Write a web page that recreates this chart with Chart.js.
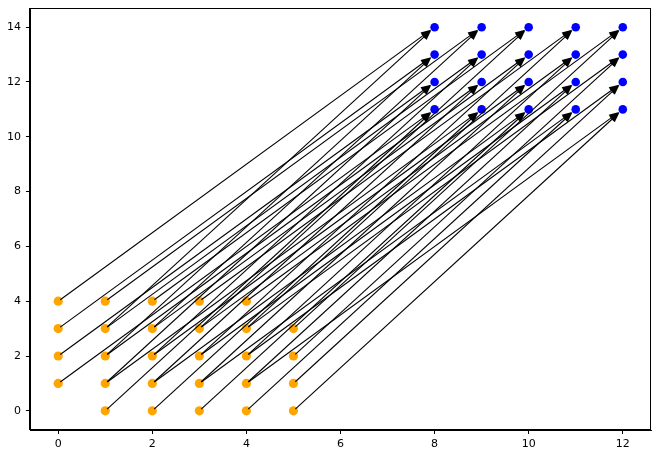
<!DOCTYPE html>
<html>
<head>
<meta charset="utf-8">
<script src="https://cdn.jsdelivr.net/npm/chart.js@4/dist/chart.umd.min.js"></script>
<style>
  html, body { margin: 0; padding: 0; background: #fff; }
  canvas { display: block; }
</style>
</head>
<body>
<canvas id="c" width="658" height="456"></canvas>
<script>
// Orange (source) points
const orangeX = [0,0,0,0, 1,1,1,1,1, 2,2,2,2,2, 3,3,3,3,3, 4,4,4,4,4, 5,5,5,5];
const orangeY = [1,2,3,4, 0,1,2,3,4, 0,1,2,3,4, 0,1,2,3,4, 0,1,2,3,4, 0,1,2,3];
// Blue (target) points
const blueX = [8,8,8,8, 9,9,9,9, 10,10,10,10, 11,11,11,11, 12,12,12,12];
const blueY = [11,12,13,14, 11,12,13,14, 11,12,13,14, 11,12,13,14, 11,12,13,14];
// Arrows: start and end
const arrowFromX = [1,1,1,1, 2,2,2,2, 3,3,3,3, 4,4,4,4, 5,5,5,5,
                    0,0,0,0, 1,1,1,1, 2,2,2,2, 3,3,3,3, 4,4,4,4];
const arrowFromY = [0,1,2,3, 0,1,2,3, 0,1,2,3, 0,1,2,3, 0,1,2,3,
                    1,2,3,4, 1,2,3,4, 1,2,3,4, 1,2,3,4, 1,2,3,4];
const arrowToX   = [8,8,8,8, 9,9,9,9, 10,10,10,10, 11,11,11,11, 12,12,12,12,
                    8,8,8,8, 9,9,9,9, 10,10,10,10, 11,11,11,11, 12,12,12,12];
const arrowToY   = [11,12,13,14, 11,12,13,14, 11,12,13,14, 11,12,13,14, 11,12,13,14,
                    11,12,13,14, 11,12,13,14, 11,12,13,14, 11,12,13,14, 11,12,13,14];
// Tick labels
const xTicks = [0, 2, 4, 6, 8, 10, 12];
const yTicks = [0, 2, 4, 6, 8, 10, 12, 14];

const toPts = (xs, ys) => xs.map((x, i) => ({x: x, y: ys[i]}));

const arrowPlugin = {
  id: 'arrows',
  afterDatasetsDraw(chart) {
    const ctx = chart.ctx;
    const sx = chart.scales.x, sy = chart.scales.y;
    ctx.save();
    ctx.strokeStyle = '#000';
    ctx.fillStyle = '#000';
    ctx.lineWidth = 1.1;
    for (let i = 0; i < arrowFromX.length; i++) {
      const x1 = sx.getPixelForValue(arrowFromX[i]);
      const y1 = sy.getPixelForValue(arrowFromY[i]);
      const x2 = sx.getPixelForValue(arrowToX[i]);
      const y2 = sy.getPixelForValue(arrowToY[i]);
      const dx = x2 - x1, dy = y2 - y1;
      const len = Math.hypot(dx, dy);
      const ux = dx / len, uy = dy / len;
      const px = -uy, py = ux;
      const startX = x1 + ux * 2.5, startY = y1 + uy * 2.5;
      const tipX = x2 - ux * 4.5, tipY = y2 - uy * 4.5;
      const headLen = 10, hw = 4;
      const bx = tipX - ux * headLen, by = tipY - uy * headLen;
      ctx.beginPath();
      ctx.moveTo(startX, startY);
      ctx.lineTo(bx + ux * 1, by + uy * 1);
      ctx.stroke();
      ctx.beginPath();
      ctx.moveTo(tipX, tipY);
      ctx.lineTo(bx + px * hw, by + py * hw);
      ctx.lineTo(bx - px * hw, by - py * hw);
      ctx.closePath();
      ctx.fill();
    }
    ctx.restore();
  },
  afterDraw(chart) {
    const a = chart.chartArea;
    const ctx = chart.ctx;
    ctx.save();
    ctx.strokeStyle = '#000';
    ctx.lineWidth = 1;
    const l = Math.round(a.left) - 0.5, r = Math.round(a.right) - 0.5;
    const t = Math.round(a.top) + 0.5, b = Math.round(a.bottom) - 0.5;
    ctx.strokeRect(l, t, r - l, b - t);
    ctx.restore();
  }
};

const tickFont = { family: 'DejaVu Sans', size: 11 };

new Chart(document.getElementById('c'), {
  type: 'scatter',
  data: {
    datasets: [
      { data: toPts(orangeX, orangeY), backgroundColor: 'orange', borderWidth: 0, pointRadius: 4.6, pointHoverRadius: 4.6 },
      { data: toPts(blueX, blueY), backgroundColor: 'blue', borderWidth: 0, pointRadius: 4.3, pointHoverRadius: 4.3 }
    ]
  },
  options: {
    responsive: false,
    animation: false,
    devicePixelRatio: 1,
    events: [],
    layout: { padding: { left: 0, right: 7, top: 8, bottom: 0 } },
    plugins: { legend: { display: false }, tooltip: { enabled: false } },
    scales: {
      x: {
        type: 'linear', min: -0.6, max: 12.6,
        afterBuildTicks: s => { s.ticks = xTicks.map(v => ({ value: v })); },
        afterFit: s => { s.height = 26; s.paddingLeft = 0; s.paddingRight = 0; },
        grid: { drawOnChartArea: false, drawTicks: true, tickLength: 4, color: '#000', lineWidth: 1 },
        border: { display: true, color: '#000', width: 1 },
        ticks: { color: '#000', font: tickFont, padding: 4, maxRotation: 0, autoSkip: false }
      },
      y: {
        type: 'linear', min: -0.7, max: 14.7,
        afterBuildTicks: s => { s.ticks = yTicks.map(v => ({ value: v })); },
        afterFit: s => { s.width = 30; s.paddingTop = 0; s.paddingBottom = 0; },
        grid: { drawOnChartArea: false, drawTicks: true, tickLength: 4, color: '#000', lineWidth: 1 },
        border: { display: true, color: '#000', width: 1 },
        ticks: { color: '#000', font: tickFont, padding: 5, autoSkip: false }
      }
    }
  },
  plugins: [arrowPlugin]
});
</script>
</body>
</html>
